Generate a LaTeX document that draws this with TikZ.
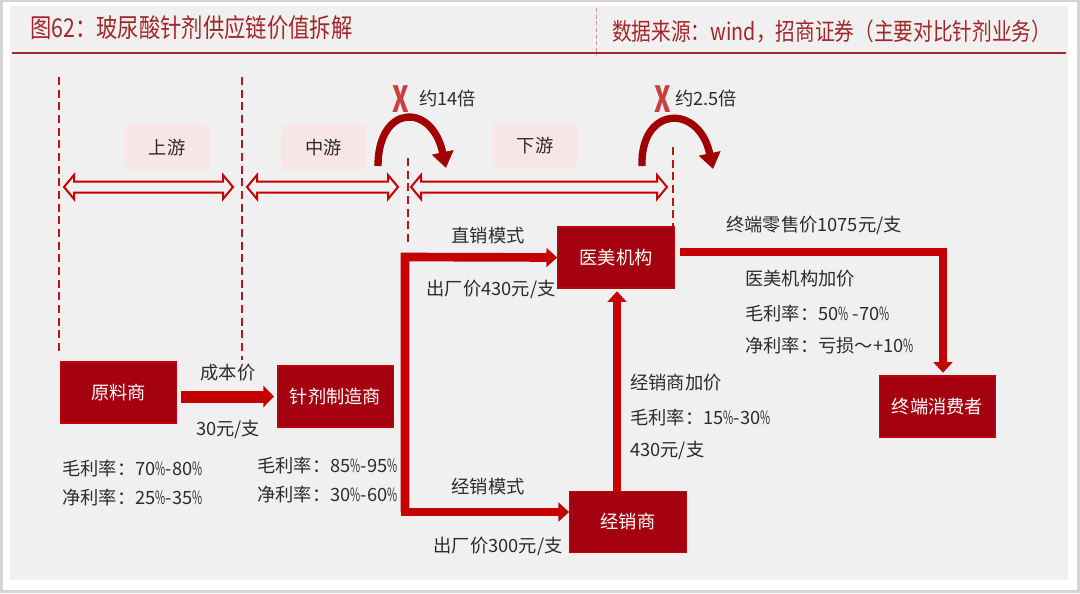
\documentclass[tikz,border=0pt]{standalone}
\usepackage{fontspec}
\setmainfont{Noto Sans CJK SC}
\usetikzlibrary{arrows.meta,calc}
\definecolor{bordergray}{HTML}{D4D4D4}
\definecolor{bg}{HTML}{F0F0F0}
\definecolor{boxred}{HTML}{A5000F}
\definecolor{boxedge}{HTML}{C0000A}
\definecolor{flowred}{HTML}{C40000}
\definecolor{arcred}{HTML}{A00000}
\definecolor{titlered}{HTML}{A3262A}
\definecolor{txt}{HTML}{2C2C2C}
\definecolor{tagpink}{HTML}{F8E6E6}
\definecolor{xred}{HTML}{C8403F}
\definecolor{dashred}{HTML}{B8141C}
\newcommand\pc{\scalebox{0.6}[1]{\%}}
\newcommand\hollowdouble[3]{%
  \draw[flowred,line width=1.5pt,line join=miter]
    (#1,#3) -- ($(#1,#3)+(10,-12)$) -- ($(#1,#3)+(10,-5.5)$) -- ($(#2,#3)+(-10,-5.5)$)
    -- ($(#2,#3)+(-10,-12)$) -- (#2,#3) -- ($(#2,#3)+(-10,12)$) -- ($(#2,#3)+(-10,5.5)$)
    -- ($(#1,#3)+(10,5.5)$) -- ($(#1,#3)+(10,12)$) -- cycle;}
\begin{document}
\begin{tikzpicture}[x=0.75pt,y=-0.75pt,
  entity/.style={draw=boxedge,line width=0.8pt,fill=boxred,text=white,
    minimum width=87.5pt,minimum height=45.75pt,inner sep=0pt,
    font=\fontsize{13.7}{16}\selectfont},
  tag/.style={fill=tagpink,rounded corners=4pt,minimum width=63.75pt,
    minimum height=33.75pt,inner sep=0pt,text=txt,font=\fontsize{13.7}{16}\selectfont},
  lbl/.style={text=txt,inner sep=0pt,font=\fontsize{13.7}{16}\selectfont},
  stage/.style={dashred,line width=1.5pt,dash pattern=on 6pt off 3.5pt},
  flowarrow/.style={flowred,line width=6.5pt,line join=miter,
    -{Triangle[length=8pt,width=14pt]}},
  bigarrow/.style={flowred,line width=9pt,-{Triangle[length=8pt,width=16pt]}},
  arcarrow/.style={arcred,line width=5.5pt,-{Triangle[length=12pt,width=16pt]}},
  xmark/.style={text=xred,inner sep=0pt,font=\fontsize{27}{29}\selectfont\bfseries}
]
\useasboundingbox (0,0) rectangle (1080,593);
% frame and background
\fill[bordergray] (0,0) rectangle (1080,593);
\fill[white] (3,2) rectangle (1077,590);
\fill[bg] (10,6) rectangle (1068,580);

% header
\node[anchor=west,inner sep=0pt,text=titlered,font=\fontsize{19.5}{22}\selectfont]
  (title) at (30,28) {\scalebox{0.82}[1]{图62：玻尿酸针剂供应链价值拆解}};
\node[anchor=west,inner sep=0pt,text=titlered,font=\fontsize{18}{20}\selectfont]
  (source) at (612,32) {\scalebox{0.82}[1]{数据来源：wind，招商证券（主要对比针剂业务）}};
\coordinate (divtop) at (596,8);
\coordinate (divbot) at (596,56);
\draw[titlered!50,line width=0.6pt,dash pattern=on 3pt off 2pt] (divtop) -- (divbot);
\coordinate (ruleL) at (12,53);
\coordinate (ruleR) at (1066,53);
\draw[titlered,line width=2pt] (ruleL) -- (ruleR);

% stage dashed lines
\coordinate (d1t) at (59,77);  \coordinate (d1b) at (59,354);
\coordinate (d2t) at (242,77); \coordinate (d2b) at (242,360);
\coordinate (d3t) at (408,158); \coordinate (d3b) at (408,243);
\coordinate (d4t) at (673,147); \coordinate (d4b) at (673,226);
\draw[stage] (d1t) -- (d1b);
\draw[stage] (d2t) -- (d2b);
\draw[stage] (d3t) -- (d3b);
\draw[stage] (d4t) -- (d4b);

% hollow double arrows
\hollowdouble{64}{233}{187}
\hollowdouble{247}{398}{187}
\hollowdouble{411}{667}{187}

% stage tags
\node[tag] (up) at (167,147.5) {上游};
\node[tag] (mid) at (323.5,147.5) {中游};
\node[tag] (down) at (535,145.5) {下游};

% curved markup arrows
\coordinate (a1s) at (378,166);
\coordinate (a1e) at (446,168);
\draw[arcarrow] (a1s) .. controls (378,104) and (432,102) .. (a1e);
\coordinate (a2s) at (642,166);
\coordinate (a2e) at (713,169);
\draw[arcarrow] (a2s) .. controls (640,106) and (699,103) .. (a2e);
\node[xmark] (x1) at (401,99) {\scalebox{0.7}[1]{X}};
\node[lbl,anchor=west] (m1) at (419,98) {约14倍};
\node[xmark] (x2) at (663,99) {\scalebox{0.7}[1]{X}};
\node[lbl,anchor=west] (m2) at (675,98) {约2.5倍};

% entities
\node[entity] (raw) at (118.5,392.5) {原料商};
\node[entity] (mfr) at (335.5,396.5) {针剂制造商};
\node[entity] (clinic) at (616,257.5) {医美机构};
\node[entity] (dist) at (628,522) {经销商};
\node[entity] (cons) at (937.5,406.5) {终端消费者};

% raw -> manufacturer
\draw[bigarrow,shorten <=3pt,shorten >=2pt] (raw.east |- mfr) -- (mfr.west);
\node[lbl] (costlbl) at (228,373) {成本价};
\node[lbl] (costval) at (228,429) {30元/支};

% margins
\node[lbl,anchor=west] (rg) at (62,468) {毛利率：70\pc-80\pc};
\node[lbl,anchor=west] (rn) at (62,497) {净利率：25\pc-35\pc};
\node[lbl,anchor=west] (mg) at (257,465) {毛利率：85\pc-95\pc};
\node[lbl,anchor=west] (mn) at (257,494) {净利率：30\pc-60\pc};

% sales channels
\coordinate (jt) at (405,257);
\coordinate (jb) at (405,512);
\draw[flowarrow] (jb) -- (jt) -- (clinic.west);
\draw[flowarrow] (jt) -- (jb) -- (dist.west |- jb);
\node[lbl] (direct) at (488,236) {直销模式};
\node[lbl] (dprice) at (491,289) {出厂价430元/支};
\node[lbl] (indirect) at (488,487) {经销模式};
\node[lbl] (iprice) at (498,546) {出厂价300元/支};

% distributor -> clinic
\draw[flowarrow,shorten >=2pt] (dist.north -| 617,0) -- (clinic.south -| 617,0);
\node[lbl,anchor=west] (dl1) at (630,383) {经销商加价};
\node[lbl,anchor=west] (dl2) at (630,417) {毛利率：15\pc-30\pc};
\node[lbl,anchor=west] (dl3) at (630,450) {430元/支};

% clinic -> consumer
\coordinate (cturn) at (943,252);
\draw[flowarrow,shorten >=2pt] ($(clinic.east)+(5,-5.5)$) -- (cturn) -- (cturn |- cons.north);
\node[lbl] (retail) at (814,225) {终端零售价1075元/支};
\node[lbl,anchor=west] (cl1) at (745,279) {医美机构加价};
\node[lbl,anchor=west] (cl2) at (745,313) {毛利率：50\pc{} -70\pc};
\node[lbl,anchor=west] (cl3) at (745,346) {净利率：亏损～+10\pc};
\end{tikzpicture}
\end{document}
